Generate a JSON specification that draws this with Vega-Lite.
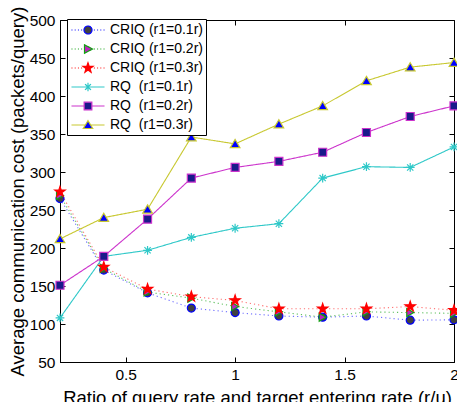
{
  "$schema": "https://vega.github.io/schema/vega-lite/v6.json",
  "width": 394,
  "height": 342,
  "autosize": "none",
  "padding": {"left": 60, "top": 20, "right": 3, "bottom": 40},
  "background": "white",
  "config": {
    "view": {"stroke": "black", "strokeWidth": 1},
    "font": "Liberation Sans",
    "axis": {"grid": false, "domainColor": "black", "tickColor": "black", "labelColor": "black", "titleColor": "black", "labelFont": "Liberation Sans", "titleFont": "Liberation Sans"},
    "legend": {"labelFont": "Liberation Sans", "labelFontSize": 14, "labelColor": "black"}
  },
  "data": {
    "values": [
      {"s": "CRIQ (r1=0.1r)", "x": 0.2, "y": 265}, {"s": "CRIQ (r1=0.1r)", "x": 0.4, "y": 171}, {"s": "CRIQ (r1=0.1r)", "x": 0.6, "y": 141}, {"s": "CRIQ (r1=0.1r)", "x": 0.8, "y": 121}, {"s": "CRIQ (r1=0.1r)", "x": 1.0, "y": 115}, {"s": "CRIQ (r1=0.1r)", "x": 1.2, "y": 110.5}, {"s": "CRIQ (r1=0.1r)", "x": 1.4, "y": 109}, {"s": "CRIQ (r1=0.1r)", "x": 1.6, "y": 110.5}, {"s": "CRIQ (r1=0.1r)", "x": 1.8, "y": 105}, {"s": "CRIQ (r1=0.1r)", "x": 2.0, "y": 105.5},
      {"s": "CRIQ (r1=0.2r)", "x": 0.2, "y": 269}, {"s": "CRIQ (r1=0.2r)", "x": 0.4, "y": 173}, {"s": "CRIQ (r1=0.2r)", "x": 0.6, "y": 142}, {"s": "CRIQ (r1=0.2r)", "x": 0.8, "y": 134}, {"s": "CRIQ (r1=0.2r)", "x": 1.0, "y": 123}, {"s": "CRIQ (r1=0.2r)", "x": 1.2, "y": 116}, {"s": "CRIQ (r1=0.2r)", "x": 1.4, "y": 109}, {"s": "CRIQ (r1=0.2r)", "x": 1.6, "y": 116}, {"s": "CRIQ (r1=0.2r)", "x": 1.8, "y": 115}, {"s": "CRIQ (r1=0.2r)", "x": 2.0, "y": 114},
      {"s": "CRIQ (r1=0.3r)", "x": 0.2, "y": 274}, {"s": "CRIQ (r1=0.3r)", "x": 0.4, "y": 175}, {"s": "CRIQ (r1=0.3r)", "x": 0.6, "y": 146}, {"s": "CRIQ (r1=0.3r)", "x": 0.8, "y": 136}, {"s": "CRIQ (r1=0.3r)", "x": 1.0, "y": 131}, {"s": "CRIQ (r1=0.3r)", "x": 1.2, "y": 120}, {"s": "CRIQ (r1=0.3r)", "x": 1.4, "y": 120}, {"s": "CRIQ (r1=0.3r)", "x": 1.6, "y": 120}, {"s": "CRIQ (r1=0.3r)", "x": 1.8, "y": 123}, {"s": "CRIQ (r1=0.3r)", "x": 2.0, "y": 118},
      {"s": "RQ  (r1=0.1r)", "x": 0.2, "y": 108}, {"s": "RQ  (r1=0.1r)", "x": 0.4, "y": 189}, {"s": "RQ  (r1=0.1r)", "x": 0.6, "y": 197}, {"s": "RQ  (r1=0.1r)", "x": 0.8, "y": 214}, {"s": "RQ  (r1=0.1r)", "x": 1.0, "y": 226}, {"s": "RQ  (r1=0.1r)", "x": 1.2, "y": 232}, {"s": "RQ  (r1=0.1r)", "x": 1.4, "y": 292}, {"s": "RQ  (r1=0.1r)", "x": 1.6, "y": 307}, {"s": "RQ  (r1=0.1r)", "x": 1.8, "y": 306}, {"s": "RQ  (r1=0.1r)", "x": 2.0, "y": 333},
      {"s": "RQ  (r1=0.2r)", "x": 0.2, "y": 151}, {"s": "RQ  (r1=0.2r)", "x": 0.4, "y": 189}, {"s": "RQ  (r1=0.2r)", "x": 0.6, "y": 238}, {"s": "RQ  (r1=0.2r)", "x": 0.8, "y": 292}, {"s": "RQ  (r1=0.2r)", "x": 1.0, "y": 306}, {"s": "RQ  (r1=0.2r)", "x": 1.2, "y": 314}, {"s": "RQ  (r1=0.2r)", "x": 1.4, "y": 326}, {"s": "RQ  (r1=0.2r)", "x": 1.6, "y": 352}, {"s": "RQ  (r1=0.2r)", "x": 1.8, "y": 373}, {"s": "RQ  (r1=0.2r)", "x": 2.0, "y": 387},
      {"s": "RQ  (r1=0.3r)", "x": 0.2, "y": 212}, {"s": "RQ  (r1=0.3r)", "x": 0.4, "y": 240}, {"s": "RQ  (r1=0.3r)", "x": 0.6, "y": 251}, {"s": "RQ  (r1=0.3r)", "x": 0.8, "y": 346}, {"s": "RQ  (r1=0.3r)", "x": 1.0, "y": 337}, {"s": "RQ  (r1=0.3r)", "x": 1.2, "y": 363}, {"s": "RQ  (r1=0.3r)", "x": 1.4, "y": 387}, {"s": "RQ  (r1=0.3r)", "x": 1.6, "y": 420}, {"s": "RQ  (r1=0.3r)", "x": 1.8, "y": 438}, {"s": "RQ  (r1=0.3r)", "x": 2.0, "y": 444}
    ]
  },
  "layer": [
    {
      "mark": {"type": "line", "strokeWidth": 1.1},
      "encoding": {
        "x": {"field": "x", "type": "quantitative", "scale": {"domain": [0.2, 2], "nice": false, "zero": false},
          "axis": {"orient": "bottom", "values": [0.5, 1, 1.5, 2], "format": "~g", "tickSize": -5, "labelPadding": 10, "labelFontSize": 15.5, "labelFlush": false, "title": "Ratio of query rate and target entering rate (r/u)", "titleFontSize": 18.5, "titleFontWeight": "normal", "titleY": 41, "titleBaseline": "alphabetic"}},
        "y": {"field": "y", "type": "quantitative", "scale": {"domain": [50, 500], "nice": false, "zero": false},
          "axis": {"orient": "left", "values": [50, 100, 150, 200, 250, 300, 350, 400, 450, 500], "tickSize": -5, "labelPadding": 10, "labelFontSize": 15.5, "labelFlush": false, "title": "Average communication cost (packets/query)", "titleFontSize": 18.5, "titleFontWeight": "normal", "titleX": -37, "titleBaseline": "alphabetic"}},
        "color": {"field": "s", "type": "nominal", "legend": null,
          "scale": {"domain": ["CRIQ (r1=0.1r)", "CRIQ (r1=0.2r)", "CRIQ (r1=0.3r)", "RQ  (r1=0.1r)", "RQ  (r1=0.2r)", "RQ  (r1=0.3r)"],
                    "range": ["#7070ff", "#60c060", "#ff7070", "#2ec8c8", "#cc33cc", "#c8c830"]}},
        "strokeDash": {"field": "s", "type": "nominal", "legend": null,
          "scale": {"domain": ["CRIQ (r1=0.1r)", "CRIQ (r1=0.2r)", "CRIQ (r1=0.3r)", "RQ  (r1=0.1r)", "RQ  (r1=0.2r)", "RQ  (r1=0.3r)"],
                    "range": [[1.2, 3], [1.2, 3], [1.2, 3], [1, 0], [1, 0], [1, 0]]}}
      }
    },
    {
      "mark": {"type": "point", "filled": true, "size": 64, "strokeWidth": 1.2, "opacity": 1},
      "encoding": {
        "x": {"field": "x", "type": "quantitative", "axis": null},
        "y": {"field": "y", "type": "quantitative", "axis": null},
        "stroke": {"field": "s", "type": "nominal", "legend": null,
          "scale": {"domain": ["CRIQ (r1=0.1r)", "CRIQ (r1=0.2r)", "CRIQ (r1=0.3r)", "RQ  (r1=0.1r)", "RQ  (r1=0.2r)", "RQ  (r1=0.3r)"],
                    "range": ["#0000ff", "#10a010", "#ff0000", "#2ec8c8", "#cc33cc", "#c8c830"]}},
        "shape": {"field": "s", "type": "nominal", "legend": null,
          "scale": {"domain": ["CRIQ (r1=0.1r)", "CRIQ (r1=0.2r)", "CRIQ (r1=0.3r)", "RQ  (r1=0.1r)", "RQ  (r1=0.2r)", "RQ  (r1=0.3r)"],
                    "range": ["circle", "triangle-right", "M0,-1.35L0.306,-0.421L1.284,-0.417L0.495,0.161L0.794,1.092L0,0.52L-0.794,1.092L-0.495,0.161L-1.284,-0.417L-0.306,-0.421Z", "M-1.1,0L1.1,0M0,-1.1L0,1.1M-0.78,-0.78L0.78,0.78M-0.78,0.78L0.78,-0.78", "square", "M0,-1.1L1.2,0.95L-1.2,0.95Z"]}},
        "fill": {"field": "s", "type": "nominal",
          "scale": {"range": ["#404040", "#c020c0", "#ff0000", "#2ec8c8", "#1a1a8a", "#0000ff"]},
          "legend": {
            "orient": "none", "legendX": 7, "legendY": -1, "title": null,
            "strokeColor": "black", "fillColor": "white", "padding": 3,
            "labelFont": "Liberation Sans", "labelFontSize": 14, "labelColor": "black", "labelLimit": 300,
            "labelExpr": "replace(datum.label, '  ', ' \u00a0') + '\u00a0\u00a0\u00a0'",
            "labelOffset": 14, "symbolSize": 196, "symbolOffset": 10, "rowPadding": 4, "symbolStrokeWidth": 1,
            "encoding": {
              "symbols": {
                "shape": {"value": {"expr": "datum.value == 'CRIQ (r1=0.1r)' ? 'M-2.36,0L-2.22,0M-1.9,0L-1.76,0M-1.44,0L-1.3,0M-0.98,0L-0.84,0M0.84,0L0.98,0M1.3,0L1.44,0M1.76,0L1.9,0M2.22,0L2.36,0M0.57,0A0.57,0.57,0,1,1,-0.57,0A0.57,0.57,0,1,1,0.57,0Z' : datum.value == 'CRIQ (r1=0.2r)' ? 'M-2.36,0L-2.22,0M-1.9,0L-1.76,0M-1.44,0L-1.3,0M-0.98,0L-0.84,0M0.84,0L0.98,0M1.3,0L1.44,0M1.76,0L1.9,0M2.22,0L2.36,0M-0.5,-0.6L0.65,0L-0.5,0.6Z' : datum.value == 'CRIQ (r1=0.3r)' ? 'M-2.36,0L-2.22,0M-1.9,0L-1.76,0M-1.44,0L-1.3,0M-0.98,0L-0.84,0M0.84,0L0.98,0M1.3,0L1.44,0M1.76,0L1.9,0M2.22,0L2.36,0M0,-0.75L0.176,-0.243L0.713,-0.232L0.285,0.093L0.441,0.607L0,0.3L-0.441,0.607L-0.285,0.093L-0.713,-0.232L-0.176,-0.243Z' : datum.value == 'RQ  (r1=0.1r)' ? 'M-2.36,0L2.36,0M0,-0.6L0,0.6M-0.42,-0.42L0.42,0.42M-0.42,0.42L0.42,-0.42' : datum.value == 'RQ  (r1=0.2r)' ? 'M-2.36,0L-0.55,0M0.55,0L2.36,0M-0.55,-0.55L0.55,-0.55L0.55,0.55L-0.55,0.55Z' : 'M-2.36,0L-0.38,0M0.38,0L2.36,0M0,-0.62L0.68,0.5L-0.68,0.5Z'"}},
                "stroke": {"value": {"expr": "scale('stroke', datum.value)"}},
                "strokeDash": {"value": [1, 0]},
                "size": {"value": 196},
                "strokeWidth": {"value": 1.2},
                "opacity": {"value": 1}
              }
            }
          }
        }
      }
    },
    {
      "mark": {"type": "point", "opacity": 0},
      "encoding": {
        "x": {"field": "x", "type": "quantitative", "axis": {"orient": "top", "values": [0.5, 1, 1.5, 2], "labels": false, "domain": false, "title": null, "tickSize": -5}},
        "y": {"field": "y", "type": "quantitative", "axis": {"orient": "right", "values": [50, 100, 150, 200, 250, 300, 350, 400, 450, 500], "labels": false, "domain": false, "title": null, "tickSize": -5}}
      }
    }
  ],
  "resolve": {"axis": {"x": "independent", "y": "independent"}}
}
